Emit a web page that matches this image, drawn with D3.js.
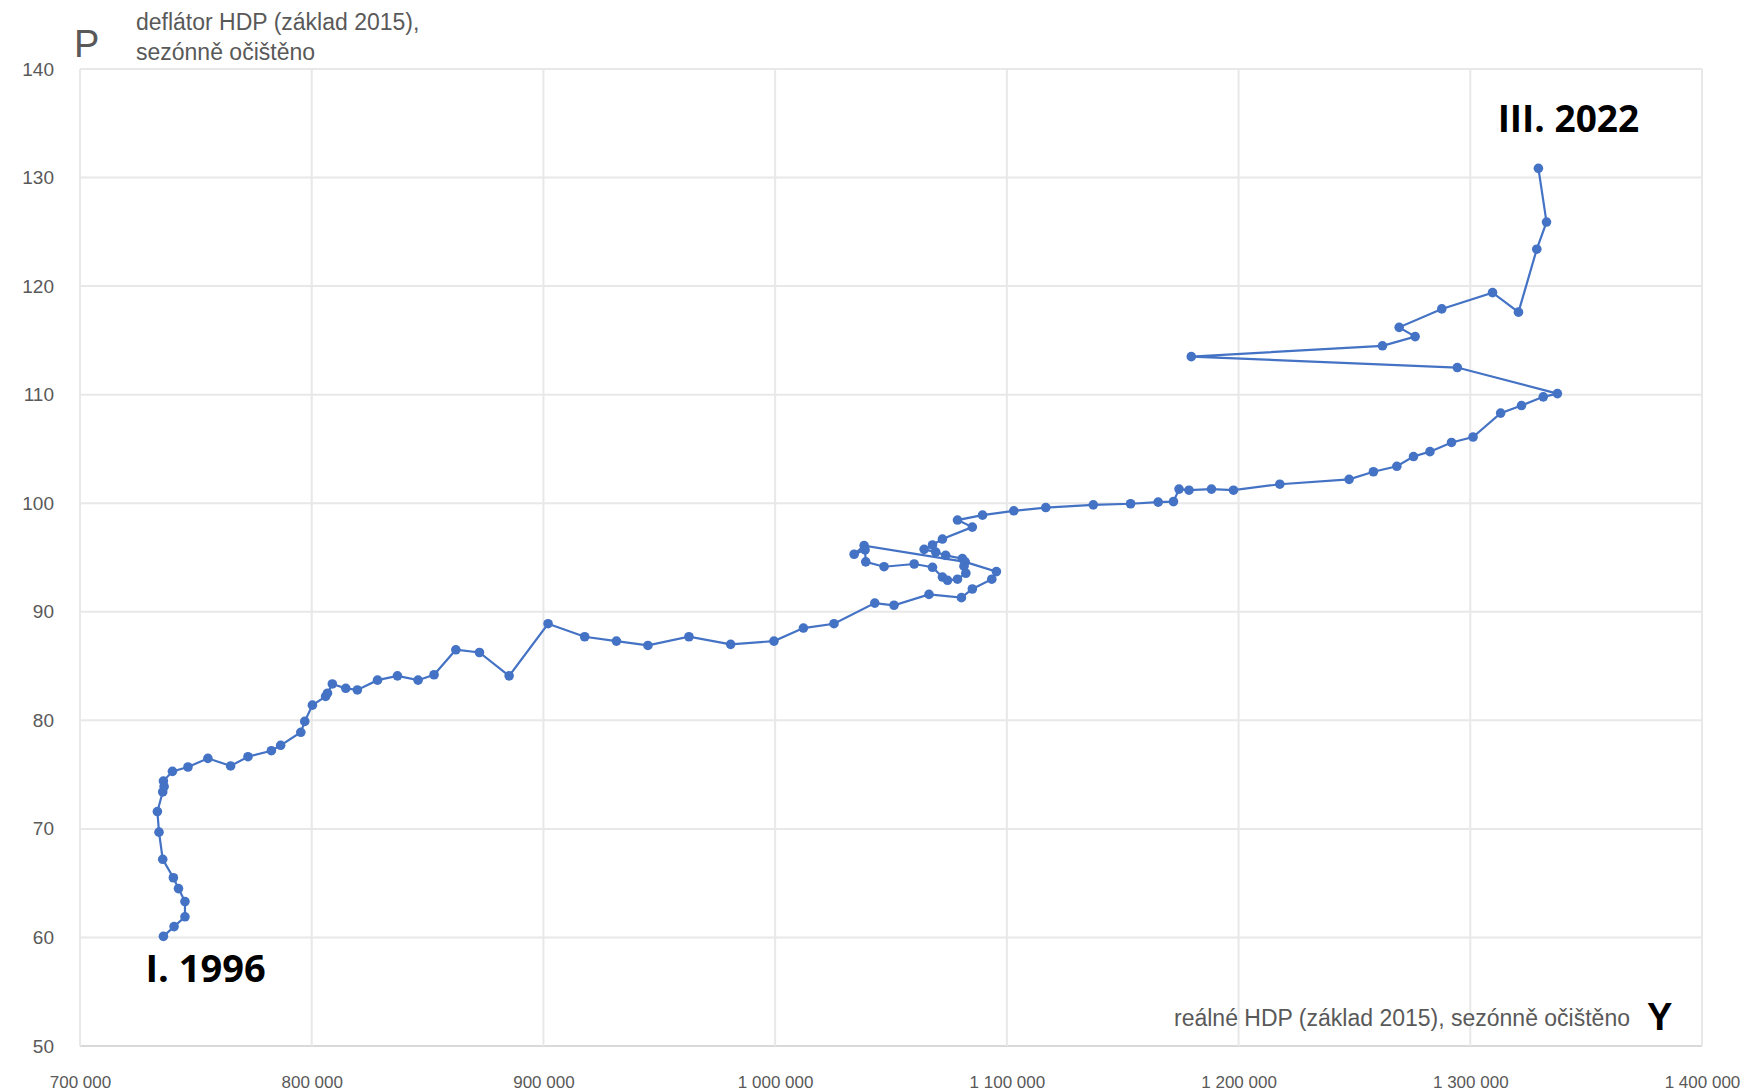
<!DOCTYPE html>
<html>
<head>
<meta charset="utf-8">
<script src="https://cdn.jsdelivr.net/npm/d3@7"></script>
<style>
  body { margin: 0; background: #fff; }
  text { font-family: "Liberation Sans", Arial, sans-serif; }
</style>
</head>
<body>
<svg id="chart" width="1760" height="1091"></svg>
<script>
// real GDP (2015 prices, s.a.), CZK mil
const gdp = [
  736000, 740600, 745300, 745300, 742500, 740300, 735700, 734100,
  733400, 735700, 736300, 736000, 739900, 746600, 755200, 765000,
  772500, 782600, 786600, 795300, 797000, 800300, 806000, 806800,
  808900, 814700, 819700, 828400, 837000, 845900, 852800, 862200,
  872400, 885200, 902000, 917800, 931500, 945100, 962800, 980800,
  999500, 1012200, 1025400, 1043000, 1051300, 1066400, 1080400, 1085100,
  1093500, 1095500, 1082000, 1038400, 1034100, 1038800, 1039100, 1047000,
  1060000, 1067900, 1072200, 1074400, 1078700, 1082300, 1081500, 1080800,
  1073600, 1069300, 1064300, 1067900, 1072200, 1085100, 1078700, 1089500,
  1103000, 1116800, 1137300, 1153400, 1165300, 1171900, 1174300, 1178600,
  1188300, 1197800, 1217800, 1247700, 1258200, 1268300, 1275500, 1282600,
  1291900, 1301200, 1313100, 1322100, 1331500, 1337600, 1294400, 1179600,
  1262100, 1276200, 1269300, 1287700, 1309600, 1320800, 1328700, 1332900,
  1329400
];
// GDP deflator (2015 = 100), s.a.
const deflator = [
  60.1, 61.0, 61.9, 63.3, 64.5, 65.5, 67.2, 69.7,
  71.6, 73.4, 73.9, 74.4, 75.3, 75.7, 76.5, 75.8,
  76.65, 77.2, 77.7, 78.9, 79.9, 81.4, 82.2, 82.5,
  83.35, 82.95, 82.8, 83.7, 84.1, 83.7, 84.2, 86.5,
  86.25, 84.1, 88.9, 87.7, 87.3, 86.9, 87.7, 87.0,
  87.3, 88.5, 88.9, 90.8, 90.6, 91.6, 91.3, 92.1,
  93.0, 93.7, 94.6, 96.1, 95.3, 95.7, 94.6, 94.15,
  94.4, 94.1, 93.2, 92.9, 93.0, 93.55, 94.2, 94.9,
  95.2, 95.5, 95.75, 96.15, 96.7, 97.8, 98.45, 98.9,
  99.3, 99.6, 99.85, 99.95, 100.1, 100.15, 101.3, 101.2,
  101.3, 101.2, 101.75, 102.2, 102.9, 103.4, 104.3, 104.75,
  105.6, 106.1, 108.3, 109.0, 109.8, 110.1, 112.5, 113.5,
  114.5, 115.35, 116.2, 117.9, 119.4, 117.6, 123.4, 125.9,
  130.85
];
const xTicks = [700000, 800000, 900000, 1000000, 1100000, 1200000, 1300000, 1400000];
const yTicks = [50, 60, 70, 80, 90, 100, 110, 120, 130, 140];

const data = gdp.map((g, i) => ({ x: g, y: deflator[i] }));

const svg = d3.select('#chart');
const margin = { top: 69, right: 58, bottom: 45, left: 80 };
const width = 1760, height = 1091;

const xScale = d3.scaleLinear().domain([700000, 1400000]).range([margin.left, width - margin.right]);
const yScale = d3.scaleLinear().domain([50, 140]).range([height - margin.bottom, margin.top]);

const cz = d3.formatLocale({ decimal: ',', thousands: ' ', grouping: [3], currency: ['', ''] });
const fmt = cz.format(',d');

svg.append('rect').attr('width', width).attr('height', height).attr('fill', '#fff');

// gridlines
svg.append('g').selectAll('line')
  .data(yTicks)
  .join('line')
  .attr('x1', margin.left).attr('x2', width - margin.right)
  .attr('y1', d => yScale(d)).attr('y2', d => yScale(d))
  .attr('stroke', d => d === 50 ? '#d9d9d9' : '#e8e8e8')
  .attr('stroke-width', 2);

svg.append('g').selectAll('line')
  .data(xTicks)
  .join('line')
  .attr('x1', d => xScale(d)).attr('x2', d => xScale(d))
  .attr('y1', margin.top).attr('y2', height - margin.bottom)
  .attr('stroke', '#e8e8e8')
  .attr('stroke-width', 2);

// axes (labels only)
const xAxis = d3.axisBottom(xScale).tickValues(xTicks).tickFormat(fmt).tickSize(0).tickPadding(30);
const yAxis = d3.axisLeft(yScale).tickValues(yTicks).tickSize(0).tickPadding(26);

const gx = svg.append('g').attr('transform', `translate(0, ${height - margin.bottom})`).call(xAxis);
const gy = svg.append('g').attr('transform', `translate(${margin.left}, 0)`).call(yAxis);
[gx, gy].forEach(g => {
  g.select('.domain').remove();
  g.selectAll('text').attr('fill', '#595959')
    .style('font-family', 'Liberation Sans, Arial, sans-serif');
});
gx.selectAll('text').style('font-size', '17px');
gy.selectAll('text').style('font-size', '19px');

// series
const line = d3.line().x(d => xScale(d.x)).y(d => yScale(d.y));
svg.append('path')
  .datum(data)
  .attr('d', line)
  .attr('fill', 'none')
  .attr('stroke', '#4472c4')
  .attr('stroke-width', 2.2);

svg.append('g').selectAll('circle')
  .data(data)
  .join('circle')
  .attr('cx', d => xScale(d.x))
  .attr('cy', d => yScale(d.y))
  .attr('r', 4.8)
  .attr('fill', '#4472c4');

// axis titles
svg.append('text').attr('x', 74).attr('y', 57)
  .attr('fill', '#595959').style('font-size', '38px')
  .text('P');
svg.append('text').attr('x', 136).attr('y', 30)
  .attr('fill', '#595959').style('font-size', '23px')
  .text('deflátor HDP (základ 2015),');
svg.append('text').attr('x', 136).attr('y', 60)
  .attr('fill', '#595959').style('font-size', '23px')
  .text('sezónně očištěno');

svg.append('text').attr('x', 1630).attr('y', 1026)
  .attr('text-anchor', 'end')
  .attr('fill', '#595959').style('font-size', '23px')
  .text('reálné HDP (základ 2015), sezónně očištěno');
svg.append('text').attr('x', 1647).attr('y', 1030)
  .attr('fill', '#000').style('font-size', '38px').style('font-weight', 'bold')
  .text('Y');

// period labels
const first = data[0], last = data[data.length - 1];
svg.append('text')
  .attr('x', xScale(first.x) - 18).attr('y', yScale(first.y) + 46)
  .attr('fill', '#000').style('font-size', '38px').style('font-weight', 'bold')
  .style('font-family', 'Open Sans, sans-serif')
  .text('I. 1996');
svg.append('text')
  .attr('x', xScale(last.x) + 30).attr('y', yScale(last.y) - 36)
  .attr('text-anchor', 'middle')
  .attr('fill', '#000').style('font-size', '37px').style('font-weight', 'bold')
  .style('font-family', 'Open Sans, sans-serif')
  .text('III. 2022');
</script>
</body>
</html>
